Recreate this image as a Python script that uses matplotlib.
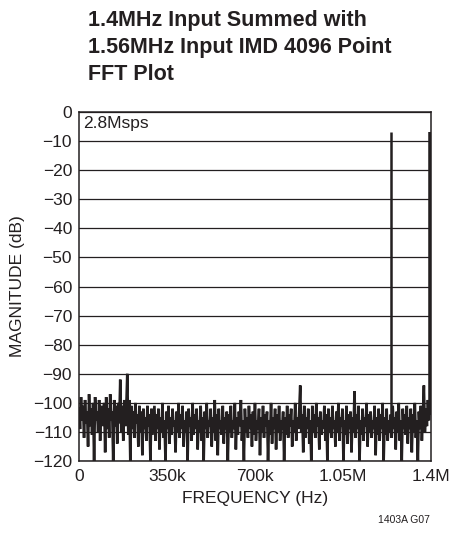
import numpy as np
import matplotlib
matplotlib.use("Agg")
import matplotlib.pyplot as plt
from matplotlib import font_manager

# pick a condensed font if there is one
names = set(f.name for f in font_manager.fontManager.ttflist)
narrow = "Liberation Sans Narrow" if "Liberation Sans Narrow" in names else "Liberation Sans"
plt.rcParams['font.family'] = [narrow, 'DejaVu Sans']

# noise floor, one value per 4 kHz bin
noise_db = [
    -102, -109, -98, -106, -101, -112, -99, -107, -103, -115, -97, -108, -102, -111, -100, -120, -98, -106, -103, -110, -99, -113, -101, -108, -104,
    -100, -117, -98, -109, -102, -112, -97, -106, -103, -120, -99, -108, -101, -114, -100, -107, -92, -110, -101, -113, -99, -108, -102, -90, -111,
    -99, -120, -101, -109, -103, -112, -100, -107, -104, -115, -101, -110, -103, -118, -102, -109, -105, -113, -101, -108, -104, -120, -102, -111, -106,
    -101, -113, -104, -109, -102, -116, -105, -110, -100, -112, -106, -120, -103, -109, -101, -114, -105, -111, -102, -108, -106, -117, -103, -110, -100,
    -112, -104, -109, -101, -115, -106, -110, -103, -120, -102, -108, -105, -113, -100, -111, -104, -109, -102, -116, -106, -110, -101, -113, -105, -120,
    -103, -109, -100, -112, -106, -108, -102, -115, -105, -110, -99, -113, -104, -118, -102, -109, -106, -111, -101, -114, -105, -109, -103, -120, -104,
    -110, -101, -112, -106, -109, -100, -116, -105, -111, -103, -108, -99, -113, -106, -120, -102, -110, -105, -112, -101, -109, -104, -115, -103, -111,
    -100, -113, -106, -109, -102, -118, -105, -110, -101, -112, -104, -108, -103, -120, -106, -111, -100, -114, -105, -109, -102, -116, -104, -110, -101,
    -113, -106, -109, -103, -120, -105, -111, -101, -112, -104, -108, -102, -115, -106, -110, -100, -113, -105, -109, -103, -94, -110, -104, -117, -101,
    -112, -105, -109, -102, -114, -106, -120, -101, -110, -104, -112, -100, -108, -105, -116, -103, -111, -106, -109, -101, -113, -104, -120, -102, -110,
    -105, -112, -101, -109, -106, -115, -103, -110, -100, -113, -105, -108, -102, -120, -106, -111, -101, -114, -104, -109, -103, -117, -105, -110, -96,
    -112, -104, -109, -101, -120, -106, -111, -102, -113, -105, -108, -100, -115, -104, -110, -103, -112, -106, -109, -101, -118, -105, -111, -102, -113,
    -104, -109, -100, -120, -105, -111, -102, -113, -106, -110, -104, -112, -101, -109, -105, -116, -103, -110, -100, -113, -106, -120, -102, -109, -104,
    -111, -101, -114, -105, -109, -102, -117, -104, -110, -100, -112, -106, -120, -103, -109, -101, -113, -105, -94, -110, -102, -108, -99, -106, -101,
]
bin_hz = 4000.0

# the two input tones (1.56MHz aliases to 1.24MHz at 2.8Msps)
tone_hz = [1.24e6, 1.4e6]
tone_db = [-7, -7]
tone_floor = [-108, -104]

xticks = [0, 350e3, 700e3, 1.05e6, 1.4e6]
xlabels = ['0', '350k', '700k', '1.05M', '1.4M']
yticks = list(range(0, -130, -10))
ylabels = ['0'] + ['\u2212%d' % (-v) for v in yticks[1:]]

ink = '#231f20'

fig = plt.figure(figsize=(4.5, 5.45), dpi=100)
ax = fig.add_axes([0.1756, 0.154, 0.782, 0.6405])

freq = np.arange(len(noise_db)) * bin_hz
ax.plot(freq, noise_db, color=ink, lw=1.9, solid_joinstyle='miter')
ax.vlines(tone_hz[0], tone_floor[0], tone_db[0], color=ink, lw=1.8)
ax.vlines(tone_hz[1], tone_floor[1], tone_db[1], color=ink, lw=4)

ax.set_xlim(0, 1.4e6)
ax.set_ylim(-120, 0)
ax.set_xticks(xticks)
ax.set_xticklabels(xlabels)
ax.set_yticks(yticks)
ax.set_yticklabels(ylabels)
ax.tick_params(length=0, labelsize=12.5, colors=ink)
ax.tick_params(axis='y', pad=5)
ax.tick_params(axis='x', pad=6)
ax.yaxis.grid(True, color=ink, lw=0.9)
ax.set_axisbelow(False)
for s in ax.spines.values():
    s.set_color(ink)
    s.set_linewidth(1.1)

ax.set_xlabel('FREQUENCY (Hz)', fontsize=12.5, color=ink, labelpad=5)
ax.set_ylabel('MAGNITUDE (dB)', fontsize=12.5, color=ink, labelpad=6)
ax.text(0.012, 0.988, '2.8Msps', transform=ax.transAxes, ha='left', va='top',
        fontsize=12.5, color=ink)

fig.text(88 / 450, 1 - 10 / 545, '1.4MHz Input Summed with\n1.56MHz Input IMD 4096 Point\nFFT Plot',
         ha='left', va='top', fontsize=15.5, fontweight='bold', color=ink, linespacing=1.38)
fig.text(430 / 450, 1 - 520 / 545, '1403A G07', ha='right', va='center', fontsize=7.5, color=ink)

fig.savefig('out.png', dpi=100)
